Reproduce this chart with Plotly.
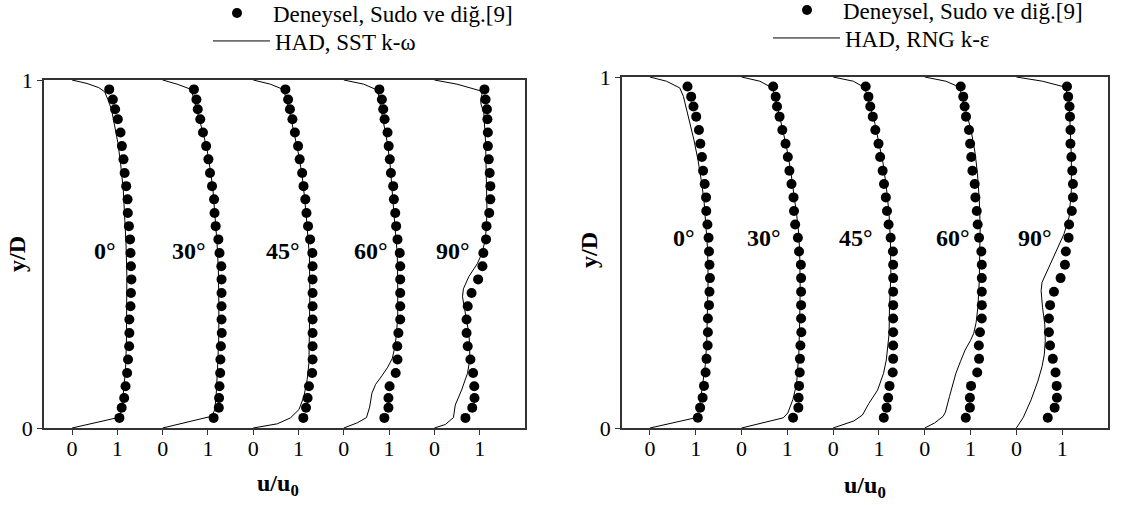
import plotly.graph_objects as go

# Measured profile heights (y/D), shared by every angle
y_exp = [0.029, 0.058, 0.086, 0.12, 0.158, 0.197, 0.235, 0.273, 0.312, 0.35, 0.388, 0.427, 0.465,
         0.503, 0.542, 0.58, 0.618, 0.657, 0.695, 0.733, 0.772, 0.81, 0.849, 0.887, 0.916, 0.944, 0.973]

angles = ["0°", "30°", "45°", "60°", "90°"]

# Experimental u/u0 (Sudo et al.)
u_exp = {
    "0°": [1.045, 1.095, 1.15, 1.18, 1.215, 1.235, 1.26, 1.265, 1.265, 1.29, 1.30, 1.31, 1.30, 1.29,
           1.28, 1.255, 1.23, 1.225, 1.195, 1.16, 1.135, 1.10, 1.07, 1.01, 0.95, 0.90, 0.82],
    "30°": [1.125, 1.24, 1.245, 1.255, 1.27, 1.275, 1.285, 1.305, 1.30, 1.30, 1.30, 1.30, 1.295, 1.255,
            1.23, 1.17, 1.145, 1.135, 1.09, 1.045, 1.01, 0.96, 0.89, 0.83, 0.775, 0.745, 0.69],
    "45°": [1.105, 1.165, 1.20, 1.23, 1.30, 1.31, 1.31, 1.31, 1.31, 1.31, 1.31, 1.31, 1.31, 1.305,
            1.255, 1.21, 1.175, 1.15, 1.11, 1.08, 1.025, 0.99, 0.92, 0.865, 0.81, 0.77, 0.71],
    "60°": [0.895, 0.985, 0.985, 1.01, 1.145, 1.185, 1.18, 1.205, 1.245, 1.245, 1.245, 1.245, 1.245, 1.235,
            1.185, 1.155, 1.135, 1.105, 1.09, 1.04, 1.015, 0.99, 0.965, 0.90, 0.87, 0.84, 0.785],
    "90°": [0.685, 0.835, 0.885, 0.88, 0.855, 0.795, 0.735, 0.71, 0.71, 0.735, 0.82, 0.965, 1.06, 1.08,
            1.14, 1.15, 1.21, 1.235, 1.235, 1.22, 1.20, 1.18, 1.18, 1.17, 1.16, 1.13, 1.105],
}

# CFD, SST k-omega: (y/D, u/u0)
sst_y = {
    "0°": [0, 0.029, 0.034, 0.067, 0.11, 0.168, 0.244, 0.34, 0.436, 0.532, 0.609, 0.686, 0.762, 0.82,
           0.868, 0.916, 0.944, 0.966, 0.978, 0.99, 1.0],
    "30°": [0, 0.034, 0.053, 0.091, 0.168, 0.264, 0.36, 0.455, 0.532, 0.609, 0.686, 0.743, 0.8, 0.839,
            0.877, 0.916, 0.954, 0.973, 0.988, 1.0],
    "45°": [0, 0.012, 0.029, 0.053, 0.091, 0.139, 0.187, 0.283, 0.388, 0.494, 0.551, 0.609, 0.666, 0.724,
            0.781, 0.829, 0.877, 0.916, 0.954, 0.973, 0.988, 1.0],
    "60°": [0, 0.015, 0.03, 0.06, 0.10, 0.125, 0.15, 0.175, 0.20, 0.235, 0.28, 0.33, 0.42, 0.50, 0.56,
            0.63, 0.70, 0.76, 0.82, 0.87, 0.916, 0.954, 0.971, 0.988, 1.0],
    "90°": [0, 0.01, 0.03, 0.066, 0.109, 0.157, 0.195, 0.235, 0.272, 0.32, 0.35, 0.377, 0.40, 0.435,
            0.473, 0.502, 0.54, 0.58, 0.63, 0.72, 0.82, 0.906, 0.93, 0.944, 0.959, 0.968, 0.988, 1.0],
}
sst_u = {
    "0°": [0, 0.98, 1.05, 1.10, 1.14, 1.18, 1.20, 1.21, 1.21, 1.19, 1.16, 1.13, 1.07, 1.01, 0.94, 0.87,
           0.79, 0.72, 0.59, 0.33, 0],
    "30°": [0, 1.09, 1.15, 1.18, 1.21, 1.24, 1.24, 1.23, 1.20, 1.16, 1.11, 1.05, 0.98, 0.91, 0.83, 0.76,
            0.68, 0.63, 0.32, 0],
    "45°": [0, 0.53, 0.82, 1.01, 1.12, 1.19, 1.23, 1.24, 1.25, 1.24, 1.21, 1.17, 1.13, 1.08, 1.01, 0.93,
            0.86, 0.79, 0.71, 0.66, 0.38, 0],
    "60°": [0, 0.30, 0.50, 0.57, 0.62, 0.70, 0.84, 0.97, 1.07, 1.13, 1.17, 1.19, 1.19, 1.18, 1.14, 1.10,
            1.07, 1.02, 0.96, 0.88, 0.82, 0.77, 0.74, 0.44, 0],
    "90°": [0, 0.24, 0.42, 0.46, 0.60, 0.73, 0.78, 0.78, 0.76, 0.70, 0.65, 0.62, 0.64, 0.76, 0.95, 1.05,
            1.12, 1.15, 1.16, 1.15, 1.13, 1.09, 1.03, 1.02, 1.05, 1.04, 0.50, 0],
}

# CFD, RNG k-epsilon: (y/D, u/u0)
rng_y = {
    "0°": [0, 0.029, 0.038, 0.076, 0.115, 0.181, 0.248, 0.324, 0.42, 0.506, 0.582, 0.649, 0.706, 0.763,
           0.821, 0.868, 0.906, 0.945, 0.969, 0.988, 1.0],
    "30°": [0, 0.029, 0.043, 0.081, 0.124, 0.21, 0.305, 0.40, 0.496, 0.553, 0.611, 0.668, 0.735, 0.802,
            0.859, 0.906, 0.945, 0.969, 0.988, 1.0],
    "45°": [0, 0.02, 0.037, 0.07, 0.108, 0.156, 0.194, 0.267, 0.344, 0.439, 0.534, 0.611, 0.687, 0.754,
            0.811, 0.868, 0.916, 0.954, 0.971, 0.988, 1.0],
    "60°": [0, 0.014, 0.033, 0.045, 0.09, 0.134, 0.156, 0.19, 0.222, 0.25, 0.27, 0.30, 0.344, 0.42,
            0.496, 0.573, 0.649, 0.725, 0.782, 0.849, 0.897, 0.935, 0.971, 0.988, 1.0],
    "90°": [0, 0.03, 0.08, 0.134, 0.175, 0.21, 0.248, 0.27, 0.296, 0.344, 0.391, 0.415, 0.458, 0.506,
            0.553, 0.601, 0.677, 0.773, 0.868, 0.935, 0.971, 0.988, 1.0],
}
rng_u = {
    "0°": [0, 0.99, 1.04, 1.10, 1.14, 1.21, 1.24, 1.26, 1.27, 1.26, 1.22, 1.18, 1.12, 1.05, 0.96, 0.87,
           0.80, 0.73, 0.65, 0.36, 0],
    "30°": [0, 0.91, 1.01, 1.12, 1.20, 1.25, 1.27, 1.28, 1.27, 1.25, 1.20, 1.14, 1.07, 0.98, 0.89, 0.80,
            0.73, 0.67, 0.40, 0],
    "45°": [0, 0.45, 0.64, 0.78, 0.97, 1.10, 1.16, 1.22, 1.23, 1.26, 1.25, 1.22, 1.16, 1.09, 1.00, 0.91,
            0.81, 0.73, 0.67, 0.44, 0],
    "60°": [0, 0.21, 0.40, 0.45, 0.54, 0.64, 0.68, 0.78, 0.88, 1.0, 1.07, 1.12, 1.16, 1.19, 1.20, 1.21,
            1.19, 1.15, 1.10, 1.01, 0.91, 0.83, 0.76, 0.46, 0],
    "90°": [0, 0.15, 0.32, 0.47, 0.56, 0.61, 0.63, 0.63, 0.62, 0.57, 0.54, 0.56, 0.71, 0.89, 1.04, 1.15,
            1.20, 1.20, 1.18, 1.15, 1.07, 0.57, 0],
}

x_ticks = list(range(10))
x_ticktext = ["0", "1"] * 5
y_ticks = [0, 1]

exp_name = "Deneysel, Sudo ve diğ.[9]"
sst_name = "HAD, SST k-ω"
rng_name = "HAD, RNG k-ε"

SHIFT = 2.0  # horizontal spacing between successive profiles
SERIF = "Liberation Serif, Times New Roman, serif"

fig = go.Figure()

# each legend row gets its own legend box so rows can be placed freely
panels = [
    ("x", "y", sst_y, sst_u, sst_name, "legend", "legend2"),
    ("x2", "y2", rng_y, rng_u, rng_name, "legend3", "legend4"),
]

for xa, ya, ly, lu, lname, leg_exp, leg_cfd in panels:
    for i, a in enumerate(angles):
        off = SHIFT * i
        fig.add_trace(go.Scatter(
            x=[off + v for v in u_exp[a]], y=y_exp, mode="markers",
            marker=dict(color="black", size=10), name=exp_name,
            legend=leg_exp, legendgroup=leg_exp, showlegend=(i == 0),
            xaxis=xa, yaxis=ya))
    for i, a in enumerate(angles):
        off = SHIFT * i
        fig.add_trace(go.Scatter(
            x=[off + v for v in lu[a]], y=ly[a], mode="lines",
            line=dict(color="black", width=1), name=lname,
            legend=leg_cfd, legendgroup=leg_cfd, showlegend=(i == 0),
            xaxis=xa, yaxis=ya))

W, H = 1140, 505
ax_common = dict(showline=True, mirror=True, linecolor="#333", linewidth=1.5,
                 showgrid=False, zeroline=False, ticks="outside", ticklen=5,
                 tickcolor="#333", automargin=False,
                 tickfont=dict(family=SERIF, size=22, color="black"))


def legend_box(x_px, y_px, iw):
    return dict(x=x_px / W, y=1 - y_px / H, xanchor="left", yanchor="middle", itemwidth=iw,
                font=dict(family=SERIF, size=23, color="black"), bgcolor="rgba(0,0,0,0)",
                borderwidth=0)


fig.update_layout(
    width=W, height=H, margin=dict(l=0, r=0, t=0, b=0, autoexpand=False),
    paper_bgcolor="white", plot_bgcolor="white",
    xaxis=dict(domain=[44 / W, 525 / W], range=[-0.62, 10.0], tickvals=x_ticks,
               ticktext=x_ticktext, ticklabelstandoff=-5, anchor="y", **ax_common),
    yaxis=dict(domain=[1 - 428 / H, 1 - 80 / H], range=[0, 1], tickvals=y_ticks,
               anchor="x", **ax_common),
    xaxis2=dict(domain=[622 / W, 1108 / W], range=[-0.61, 10.0], tickvals=x_ticks,
                ticktext=x_ticktext, ticklabelstandoff=-5, anchor="y2", **ax_common),
    yaxis2=dict(domain=[1 - 428 / H, 1 - 77 / H], range=[0, 1], tickvals=y_ticks,
                anchor="x2", **ax_common),
    legend=legend_box(201, 13, 62),
    legend2=legend_box(208, 41, 57),
    legend3=legend_box(771, 10, 62),
    legend4=legend_box(768, 38, 67),
)

# Angle labels next to each profile
label_pos = [
    ("x", "y", [1.02, 3.0, 5.08, 7.03, 8.84], 0.509),
    ("x2", "y2", [1.02, 2.9, 4.92, 7.04, 8.82], 0.54),
]
for xa, ya, xs, yv in label_pos:
    for a, xv in zip(angles, xs):
        fig.add_annotation(x=xv, y=yv, xref=xa, yref=ya, text="<b>" + a + "</b>",
                           showarrow=False, xanchor="right", yanchor="middle",
                           font=dict(family=SERIF, size=24, color="black"))

# Axis titles, centred on their anchor points
for xc, yc in [(278, 485), (865, 487)]:
    fig.add_annotation(x=xc / W, y=1 - yc / H, xref="paper", yref="paper",
                       text="<b>u/u<sub>0</sub></b>", showarrow=False,
                       xanchor="center", yanchor="middle",
                       font=dict(family=SERIF, size=24, color="black"))
for xc, yc in [(17, 254), (589, 250)]:
    fig.add_annotation(x=xc / W, y=1 - yc / H, xref="paper", yref="paper",
                       text="<b>y/D</b>", showarrow=False, textangle=-90,
                       xanchor="center", yanchor="middle",
                       font=dict(family=SERIF, size=24, color="black"))

fig.write_html("out.html")
